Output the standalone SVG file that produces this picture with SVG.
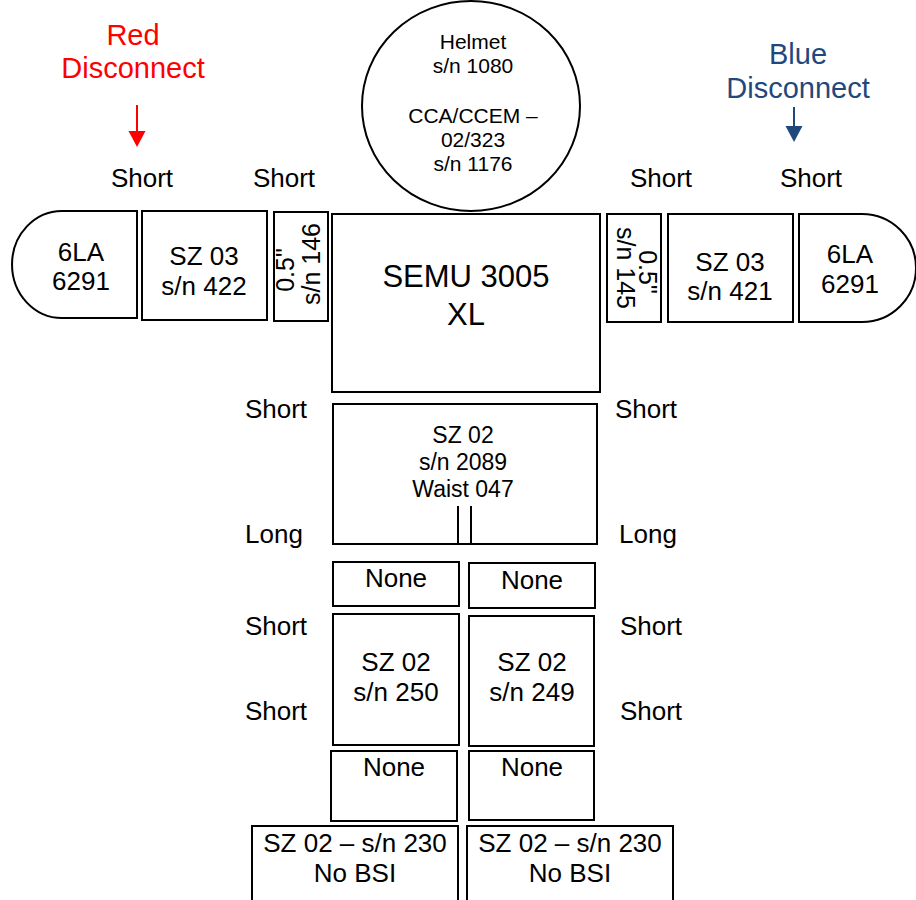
<svg xmlns="http://www.w3.org/2000/svg" width="916" height="900" viewBox="0 0 916 900">
<style>
  text { font-family: "Liberation Sans", Arial, sans-serif; fill: #000; }
  .box { fill: #fff; stroke: #000; stroke-width: 2; }
  .t26 { font-size: 26px; text-anchor: middle; }
  .lbl { font-size: 26px; text-anchor: middle; }
  .rot { font-size: 25px; text-anchor: middle; }
  .helm { font-size: 21px; text-anchor: middle; }
  .semu { font-size: 31px; text-anchor: middle; }
  .waist { font-size: 23px; text-anchor: middle; }
  .red { fill: #FF0000; font-size: 29px; text-anchor: middle; }
  .blue { fill: #1F497D; font-size: 29px; text-anchor: middle; }
</style>
<rect width="916" height="900" fill="#fff"/>

<g id="red-disconnect">
  <text class="red" x="133" y="45">Red</text>
  <text class="red" x="133" y="78">Disconnect</text>
</g>
<g id="blue-disconnect">
  <text class="blue" x="798" y="64">Blue</text>
  <text class="blue" x="798" y="98">Disconnect</text>
</g>

<g id="connectors">
  <line x1="137" y1="105" x2="137" y2="133" stroke="#FF0000" stroke-width="2"/>
  <polygon points="128.5,131 145.5,131 137,147" fill="#FF0000"/>
  <line x1="794" y1="107" x2="794" y2="128" stroke="#1F497D" stroke-width="2"/>
  <polygon points="785.5,126 802.5,126 794,142" fill="#1F497D"/>
</g>

<g id="labels">
  <text class="lbl" x="142" y="187">Short</text>
  <text class="lbl" x="284" y="187">Short</text>
  <text class="lbl" x="661" y="187">Short</text>
  <text class="lbl" x="811" y="187">Short</text>
  <text class="lbl" x="276" y="418">Short</text>
  <text class="lbl" x="646" y="418">Short</text>
  <text class="lbl" x="274" y="543">Long</text>
  <text class="lbl" x="648" y="543">Long</text>
  <text class="lbl" x="276" y="635">Short</text>
  <text class="lbl" x="651" y="635">Short</text>
  <text class="lbl" x="276" y="720">Short</text>
  <text class="lbl" x="651" y="720">Short</text>
</g>

<g id="helmet">
  <ellipse class="box" cx="471" cy="106" rx="109" ry="105"/>
  <text class="helm" x="473" y="49">Helmet</text>
  <text class="helm" x="473" y="73">s/n 1080</text>
  <text class="helm" x="473" y="123">CCA/CCEM –</text>
  <text class="helm" x="473" y="147">02/323</text>
  <text class="helm" x="473" y="171">s/n 1176</text>
</g>

<g id="semu">
  <rect class="box" x="332" y="214" width="268" height="178"/>
  <text class="semu" x="466" y="287">SEMU 3005</text>
  <text class="semu" x="466" y="325">XL</text>
</g>

<g id="left-6la">
  <path class="box" d="M137,211 H62 A50,53.5 0 0 0 62,318 H137 Z"/>
  <text class="t26" x="81" y="261">6LA</text>
  <text class="t26" x="81" y="290">6291</text>
</g>
<g id="left-sz03">
  <rect class="box" x="142" y="211" width="125" height="109"/>
  <text class="t26" x="204" y="265">SZ 03</text>
  <text class="t26" x="204" y="295">s/n 422</text>
</g>
<g id="left-spacer">
  <rect class="box" x="274" y="212" width="54" height="109"/>
  <text class="rot" transform="translate(294,270) rotate(-90)">0.5"</text>
  <text class="rot" transform="translate(320,264) rotate(-90)">s/n 146</text>
</g>

<g id="right-spacer">
  <rect class="box" x="607" y="214" width="54" height="108"/>
  <text class="rot" transform="translate(617,268) rotate(90)">s/n 145</text>
  <text class="rot" transform="translate(639,272) rotate(90)">0.5"</text>
</g>
<g id="right-sz03">
  <rect class="box" x="668" y="214" width="125" height="108"/>
  <text class="t26" x="730" y="271">SZ 03</text>
  <text class="t26" x="730" y="300">s/n 421</text>
</g>
<g id="right-6la">
  <path class="box" d="M799,214 H862 A54,54 0 0 1 862,322 H799 Z"/>
  <text class="t26" x="850" y="263">6LA</text>
  <text class="t26" x="850" y="293">6291</text>
</g>

<g id="waist">
  <rect class="box" x="333" y="404" width="264" height="140"/>
  <text class="waist" x="463" y="443">SZ 02</text>
  <text class="waist" x="463" y="470">s/n 2089</text>
  <text class="waist" x="463" y="497">Waist 047</text>
  <line x1="458" y1="506" x2="458" y2="544" stroke="#000" stroke-width="2"/>
  <line x1="471" y1="506" x2="471" y2="544" stroke="#000" stroke-width="2"/>
</g>

<g id="left-none-1">
  <rect class="box" x="333" y="562" width="126" height="44"/>
  <text class="t26" x="396" y="587">None</text>
</g>
<g id="right-none-1">
  <rect class="box" x="469" y="563" width="126" height="45"/>
  <text class="t26" x="532" y="589">None</text>
</g>

<g id="left-leg">
  <rect class="box" x="333" y="614" width="126" height="131"/>
  <text class="t26" x="396" y="671">SZ 02</text>
  <text class="t26" x="396" y="701">s/n 250</text>
</g>
<g id="right-leg">
  <rect class="box" x="469" y="616" width="125" height="130"/>
  <text class="t26" x="532" y="671">SZ 02</text>
  <text class="t26" x="532" y="701">s/n 249</text>
</g>

<g id="left-none-2">
  <rect class="box" x="331" y="751" width="126" height="70"/>
  <text class="t26" x="394" y="776">None</text>
</g>
<g id="right-none-2">
  <rect class="box" x="469" y="751" width="125" height="69"/>
  <text class="t26" x="532" y="776">None</text>
</g>

<g id="left-boot">
  <rect class="box" x="252" y="826" width="206" height="84"/>
  <text class="t26" x="355" y="852">SZ 02 – s/n 230</text>
  <text class="t26" x="355" y="882">No BSI</text>
</g>
<g id="right-boot">
  <rect class="box" x="467" y="826" width="206" height="84"/>
  <text class="t26" x="570" y="852">SZ 02 – s/n 230</text>
  <text class="t26" x="570" y="882">No BSI</text>
</g>
</svg>
